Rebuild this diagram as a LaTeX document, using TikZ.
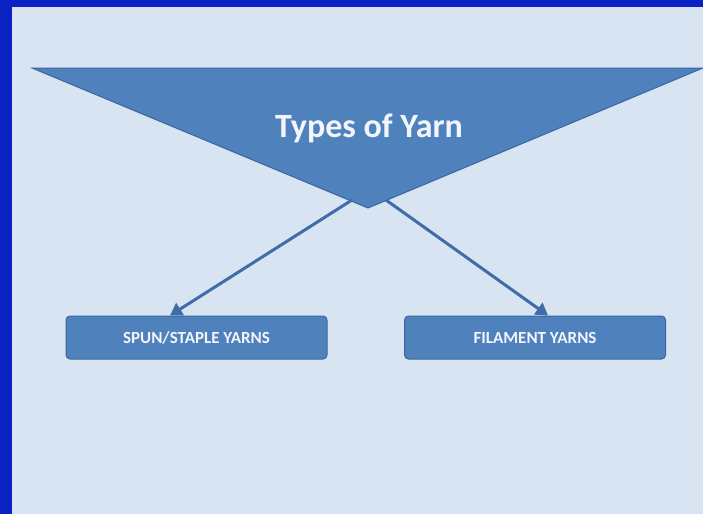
\documentclass[tikz,border=0pt]{standalone}
\usepackage{fontspec}
\setmainfont{Carlito}
\usetikzlibrary{arrows.meta}
\definecolor{frameblue}{HTML}{0A22C4}
\definecolor{bglight}{HTML}{D8E4F1}
\definecolor{shapefill}{HTML}{4F81BD}
\definecolor{shapeedge}{HTML}{3A679E}
\definecolor{arrowcol}{HTML}{3F6DA8}
\definecolor{txtcol}{HTML}{F2F6FB}
\tikzset{
  boxstyle/.style={draw=shapeedge, line width=1pt, fill=shapefill, rounded corners=4pt,
    minimum width=261pt, minimum height=43pt, inner sep=0pt,
    font=\bfseries\fontsize{17}{20}\selectfont, text=txtcol},
  conn/.style={draw=arrowcol, line width=3pt, -{Triangle[length=12pt,width=14pt]}}
}
\begin{document}
\begin{tikzpicture}[x=1pt,y=-1pt]
\useasboundingbox (0,0) rectangle (703,514);
\fill[frameblue] (0,0) rectangle (703,514);
\fill[bglight] (12,7) rectangle (703,514);
% triangle
\draw[fill=shapefill, draw=shapeedge, line width=1pt] (32,68) -- (703,68) -- (368,208) -- cycle;
\node[font=\bfseries\fontsize{34}{38}\selectfont, text=txtcol] (title) at (369,128) {Types of Yarn};
\coordinate (srcL) at (352,200);
\coordinate (srcR) at (386,200);
\node[boxstyle] (spun) at (196.5,337.5) {SPUN/STAPLE YARNS};
\node[boxstyle] (fil) at (535,337.5) {FILAMENT YARNS};
\draw[conn] (srcL) -- (spun.north -| 170,0);
\draw[conn] (srcR) -- (fil.north -| 548,0);
\end{tikzpicture}
\end{document}
